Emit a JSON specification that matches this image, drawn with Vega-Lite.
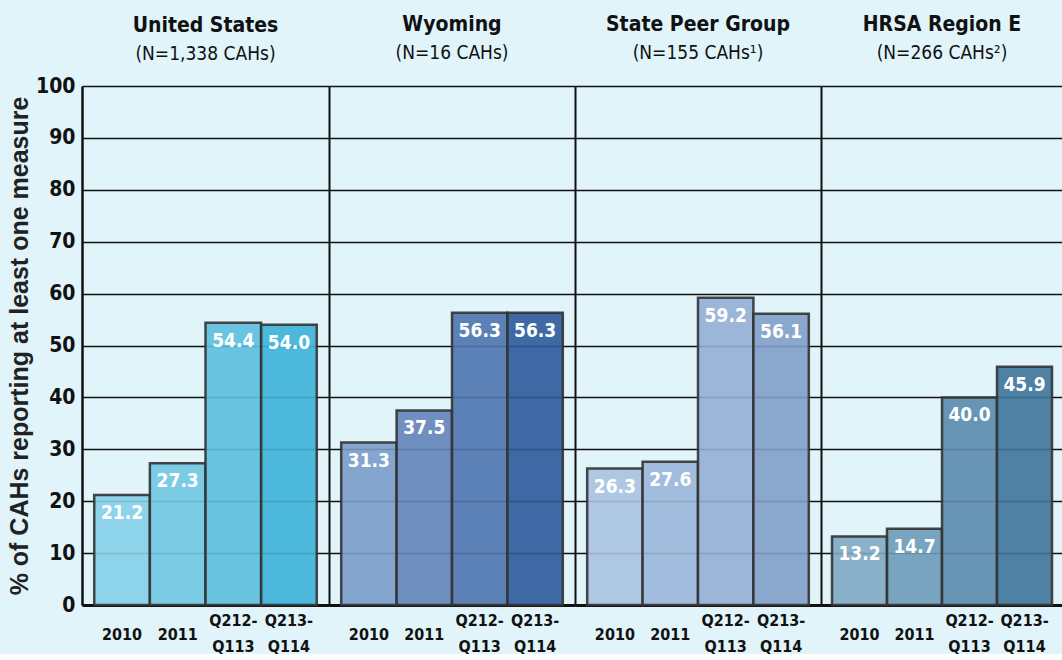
{
  "$schema": "https://vega.github.io/schema/vega-lite/v6.json",
  "background": "#e0f4fa",
  "padding": {"left": 7, "top": 14, "right": 0, "bottom": 0},
  "spacing": 0,
  "data": {"values": [
    {"group": "United States", "period": "2010", "value": 21.2},
    {"group": "United States", "period": "2011", "value": 27.3},
    {"group": "United States", "period": "Q212-Q113", "value": 54.4},
    {"group": "United States", "period": "Q213-Q114", "value": 54.0},
    {"group": "Wyoming", "period": "2010", "value": 31.3},
    {"group": "Wyoming", "period": "2011", "value": 37.5},
    {"group": "Wyoming", "period": "Q212-Q113", "value": 56.3},
    {"group": "Wyoming", "period": "Q213-Q114", "value": 56.3},
    {"group": "State Peer Group", "period": "2010", "value": 26.3},
    {"group": "State Peer Group", "period": "2011", "value": 27.6},
    {"group": "State Peer Group", "period": "Q212-Q113", "value": 59.2},
    {"group": "State Peer Group", "period": "Q213-Q114", "value": 56.1},
    {"group": "HRSA Region E", "period": "2010", "value": 13.2},
    {"group": "HRSA Region E", "period": "2011", "value": 14.7},
    {"group": "HRSA Region E", "period": "Q212-Q113", "value": 40.0},
    {"group": "HRSA Region E", "period": "Q213-Q114", "value": 45.9}
  ]},
  "config": {
    "view": {"stroke": null},
    "font": "DejaVu Sans Condensed",
    "title": {
      "font": "DejaVu Sans Condensed",
      "fontSize": 21,
      "fontWeight": "bold",
      "color": "#111111",
      "subtitleFont": "DejaVu Sans Condensed",
      "subtitleFontSize": 19,
      "subtitleFontWeight": "normal",
      "subtitleColor": "#111111",
      "subtitlePadding": 9,
      "offset": 23,
      "anchor": "middle"
    },
    "axisX": {
      "title": null,
      "labelAngle": 0,
      "ticks": false,
      "domainColor": "#111111",
      "domainWidth": 3,
      "labelFont": "DejaVu Sans Condensed",
      "labelFontSize": 16,
      "labelFontWeight": "bold",
      "labelColor": "#111111",
      "labelBaseline": "middle",
      "labelPadding": {"condition": {"test": "length(datum.value) > 4", "value": 15}, "value": 29},
      "labelLineHeight": 26,
      "labelExpr": "length(datum.value) > 4 ? [substring(datum.value, 0, 5), substring(datum.value, 5)] : datum.value"
    },
    "axisY": {
      "gridColor": "#111111",
      "gridWidth": 1.5,
      "domainColor": "#111111",
      "domainWidth": 2.5,
      "ticks": false
    }
  },
  "resolve": {"scale": {"color": "independent"}},
  "hconcat": [
    {
      "width": 247, "height": 519,
      "title": {"text": "United States", "subtitle": "(N=1,338 CAHs)", "offset": 11},
      "transform": [{"filter": "datum.group == 'United States'"}],
      "encoding": {
        "x": {"field": "period", "type": "nominal", "sort": null, "scale": {"paddingInner": 0, "paddingOuter": 0.22}},
        "y": {"field": "value", "type": "quantitative", "scale": {"domain": [0, 100]},
          "axis": {"title": "% of CAHs reporting at least one measure", "titleFont": "Liberation Sans", "titleFontSize": 25, "titleFontWeight": "bold", "titleColor": "#222222", "titlePadding": 3,
            "values": [0,10,20,30,40,50,60,70,80,90,100], "labelFont": "DejaVu Sans Condensed", "labelFontSize": 21, "labelFontWeight": "bold", "labelColor": "#111111", "labelPadding": 7, "grid": true}}
      },
      "layer": [
        {"mark": {"type": "bar", "stroke": "#333333", "strokeWidth": 2.5, "strokeOpacity": 0.9, "fillOpacity": 0.9},
         "encoding": {"color": {"field": "period", "type": "nominal", "legend": null, "scale": {"domain": ["2010","2011","Q212-Q113","Q213-Q114"], "range": ["#84cfe8","#70c6e2","#5cbfdf","#3cb2d8"]}}}},
        {"mark": {"type": "text", "color": "white", "fontSize": 19, "fontWeight": "bold", "font": "DejaVu Sans Condensed", "baseline": "middle", "dy": 18},
         "encoding": {"text": {"field": "value", "type": "quantitative", "format": ".1f"}}}
      ]
    },
    {
      "width": 246, "height": 519,
      "title": {"text": "Wyoming", "subtitle": "(N=16 CAHs)"},
      "transform": [{"filter": "datum.group == 'Wyoming'"}],
      "encoding": {
        "x": {"field": "period", "type": "nominal", "sort": null, "scale": {"paddingInner": 0, "paddingOuter": 0.22}},
        "y": {"field": "value", "type": "quantitative", "scale": {"domain": [0, 100]},
          "axis": {"title": null, "labels": false, "values": [0,10,20,30,40,50,60,70,80,90,100], "grid": true, "domainWidth": 2}}
      },
      "layer": [
        {"mark": {"type": "bar", "stroke": "#333333", "strokeWidth": 2.5, "strokeOpacity": 0.9, "fillOpacity": 0.9},
         "encoding": {"color": {"field": "period", "type": "nominal", "legend": null, "scale": {"domain": ["2010","2011","Q212-Q113","Q213-Q114"], "range": ["#7a9cc8","#6384b9","#4e74ae","#2d5a9b"]}}}},
        {"mark": {"type": "text", "color": "white", "fontSize": 19, "fontWeight": "bold", "font": "DejaVu Sans Condensed", "baseline": "middle", "dy": 18},
         "encoding": {"text": {"field": "value", "type": "quantitative", "format": ".1f"}}}
      ]
    },
    {
      "width": 246, "height": 519,
      "title": {"text": "State Peer Group", "subtitle": "(N=155 CAHs¹)"},
      "transform": [{"filter": "datum.group == 'State Peer Group'"}],
      "encoding": {
        "x": {"field": "period", "type": "nominal", "sort": null, "scale": {"paddingInner": 0, "paddingOuter": 0.22}},
        "y": {"field": "value", "type": "quantitative", "scale": {"domain": [0, 100]},
          "axis": {"title": null, "labels": false, "values": [0,10,20,30,40,50,60,70,80,90,100], "grid": true, "domainWidth": 2}}
      },
      "layer": [
        {"mark": {"type": "bar", "stroke": "#333333", "strokeWidth": 2.5, "strokeOpacity": 0.9, "fillOpacity": 0.9},
         "encoding": {"color": {"field": "period", "type": "nominal", "legend": null, "scale": {"domain": ["2010","2011","Q212-Q113","Q213-Q114"], "range": ["#a9c2df","#9ab6d8","#93afd5","#819fc9"]}}}},
        {"mark": {"type": "text", "color": "white", "fontSize": 19, "fontWeight": "bold", "font": "DejaVu Sans Condensed", "baseline": "middle", "dy": 18},
         "encoding": {"text": {"field": "value", "type": "quantitative", "format": ".1f"}}}
      ]
    },
    {
      "width": 242, "height": 519,
      "title": {"text": "HRSA Region E", "subtitle": "(N=266 CAHs²)"},
      "transform": [{"filter": "datum.group == 'HRSA Region E'"}],
      "encoding": {
        "x": {"field": "period", "type": "nominal", "sort": null, "scale": {"paddingInner": 0, "paddingOuter": 0.2}},
        "y": {"field": "value", "type": "quantitative", "scale": {"domain": [0, 100]},
          "axis": {"title": null, "labels": false, "values": [0,10,20,30,40,50,60,70,80,90,100], "grid": true, "domainWidth": 2}}
      },
      "layer": [
        {"mark": {"type": "bar", "stroke": "#333333", "strokeWidth": 2.5, "strokeOpacity": 0.9, "fillOpacity": 0.9},
         "encoding": {"color": {"field": "period", "type": "nominal", "legend": null, "scale": {"domain": ["2010","2011","Q212-Q113","Q213-Q114"], "range": ["#82a9c3","#6e9bb8","#5b8bae","#3e7499"]}}}},
        {"mark": {"type": "text", "color": "white", "fontSize": 19, "fontWeight": "bold", "font": "DejaVu Sans Condensed", "baseline": "middle", "dy": 18},
         "encoding": {"text": {"field": "value", "type": "quantitative", "format": ".1f"}}}
      ]
    }
  ]
}
